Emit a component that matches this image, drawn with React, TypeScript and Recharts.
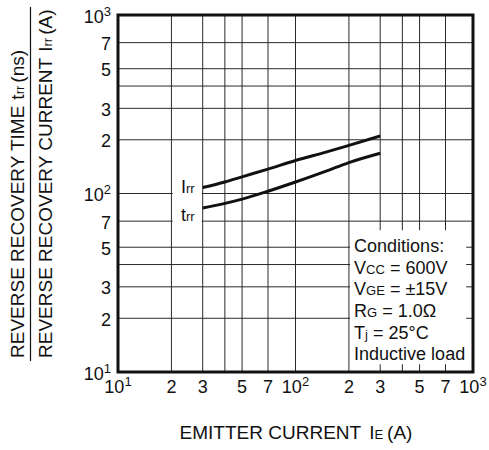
import React from "react";
import {
  LineChart,
  Line,
  XAxis,
  YAxis,
  CartesianGrid,
  ReferenceArea,
  LabelList,
} from "recharts";

const currents = [30, 40, 50, 70, 100, 150, 200, 300];
const irrValues = [108, 116, 124, 137, 153, 171, 186, 210];
const trrValues = [83, 88, 93, 103, 116, 134, 149, 168];

const xTicks = [10, 20, 30, 40, 50, 70, 100, 200, 300, 400, 500, 700, 1000];
const yTicks = [10, 20, 30, 40, 50, 70, 100, 200, 300, 400, 500, 700, 1000];
const unlabelledTicks = [40, 400];
const decadeExp: Record<number, string> = { 10: "1", 100: "2", 1000: "3" };

// [main, small subscript, rest]
const conditionLines = [
  ["Conditions:", "", ""],
  ["V", "CC", " = 600V"],
  ["V", "GE", " = \u00b115V"],
  ["R", "G", " = 1.0\u03a9"],
  ["T", "j", " = 25\u00b0C"],
  ["Inductive load", "", ""],
];

const data = currents.map((c, i) => ({ current: c, irr: irrValues[i], trr: trrValues[i] }));

const FONT = "'Liberation Sans', Arial, Helvetica, sans-serif";
const INK = "#111";

const tickContent = (v: number) => {
  const exp = decadeExp[v];
  if (exp) {
    return (
      <>
        10
        <tspan fontSize={13} dy={-7}>
          {exp}
        </tspan>
      </>
    );
  }
  return String(v).charAt(0);
};

const XTick = (props: any) => {
  const { x, y, payload } = props;
  if (unlabelledTicks.includes(payload.value)) return <g />;
  return (
    <text x={x} y={y + 21} textAnchor="middle" fontSize={18} fontFamily={FONT} fill={INK}>
      {tickContent(payload.value)}
    </text>
  );
};

const YTick = (props: any) => {
  const { x, y, payload } = props;
  if (unlabelledTicks.includes(payload.value)) return <g />;
  return (
    <text x={x} y={y + 7.5} textAnchor="end" fontSize={18} fontFamily={FONT} fill={INK}>
      {tickContent(payload.value)}
    </text>
  );
};

const SeriesTag = (props: any) => {
  const { x, y, index, main, sub, dy } = props;
  if (index !== 0 || x == null) return null;
  const base = y + dy;
  return (
    <g>
      <rect x={x - 30} y={base - 16} width={29} height={19} fill="#fff" />
      <text x={x - 8} y={base} textAnchor="end" fontSize={18} fontFamily={FONT} fill={INK}>
        {main}
        <tspan fontSize={13}>{sub}</tspan>
      </text>
    </g>
  );
};

const ConditionsText = (props: any) => {
  const { viewBox } = props;
  if (!viewBox) return null;
  return (
    <g fontSize={18} fontFamily={FONT} fill={INK}>
      {conditionLines.map((ln, i) => (
        <text key={i} x={viewBox.x + 4} y={viewBox.y + 21.7 + i * 21.66}>
          {ln[0]}
          {ln[1] ? <tspan fontSize={13}>{ln[1]}</tspan> : null}
          {ln[2]}
        </text>
      ))}
    </g>
  );
};

const YTitle = () => (
  <g fontSize={19} fontFamily={FONT} fill={INK}>
    <text transform="translate(24,358) rotate(-90)">
      REVERSE RECOVERY TIME
      <tspan dx={6}>t</tspan>
      <tspan fontSize={13}>rr</tspan>
      <tspan dx={3}>(ns)</tspan>
    </text>
    <line x1={30.5} x2={30.5} y1={7} y2={361} stroke={INK} strokeWidth={1.2} />
    <text transform="translate(51.5,358) rotate(-90)">
      REVERSE RECOVERY CURRENT
      <tspan dx={6}>I</tspan>
      <tspan fontSize={13}>rr</tspan>
      <tspan dx={3}>(A)</tspan>
    </text>
  </g>
);

const XTitle = () => (
  <text x={296} y={439} textAnchor="middle" fontSize={19} fontFamily={FONT} fill={INK}>
    EMITTER CURRENT
    <tspan dx={8}>I</tspan>
    <tspan fontSize={13}>E</tspan>
    <tspan dx={4}>(A)</tspan>
  </text>
);

export default function App() {
  return (
    <div style={{ position: "absolute", left: 0, top: 0, background: "#fff" }}>
      <LineChart
        width={489}
        height={450}
        data={data}
        margin={{ top: 15, right: 16, bottom: 0, left: 0 }}
      >
        <CartesianGrid stroke="#2a2a2a" strokeWidth={1} />
        <XAxis
          dataKey="current"
          type="number"
          scale="log"
          domain={[10, 1000]}
          ticks={xTicks}
          interval={0}
          allowDataOverflow
          height={78}
          tickSize={0}
          tickMargin={0}
          axisLine={false}
          tickLine={false}
          tick={<XTick />}
          label={<XTitle />}
        />
        <YAxis
          type="number"
          scale="log"
          domain={[10, 1000]}
          ticks={yTicks}
          interval={0}
          allowDataOverflow
          width={118}
          tickSize={0}
          tickMargin={7}
          axisLine={false}
          tickLine={false}
          tick={<YTick />}
          label={<YTitle />}
        />
        <ReferenceArea
          x1={203}
          x2={915}
          y1={11.05}
          y2={62.3}
          fill="#fff"
          fillOpacity={1}
          stroke="none"
          label={<ConditionsText />}
        />
        <Line
          dataKey="irr"
          type="monotone"
          stroke={INK}
          strokeWidth={3}
          dot={false}
          isAnimationActive={false}
        >
          <LabelList dataKey="irr" content={(p: any) => <SeriesTag {...p} main="I" sub="rr" dy={5.7} />} />
        </Line>
        <Line
          dataKey="trr"
          type="monotone"
          stroke={INK}
          strokeWidth={3}
          dot={false}
          isAnimationActive={false}
        >
          <LabelList dataKey="trr" content={(p: any) => <SeriesTag {...p} main="t" sub="rr" dy={13} />} />
        </Line>
        <ReferenceArea
          x1={10}
          x2={1000}
          y1={10}
          y2={1000}
          fill="none"
          stroke={INK}
          strokeWidth={3}
        />
      </LineChart>
    </div>
  );
}
